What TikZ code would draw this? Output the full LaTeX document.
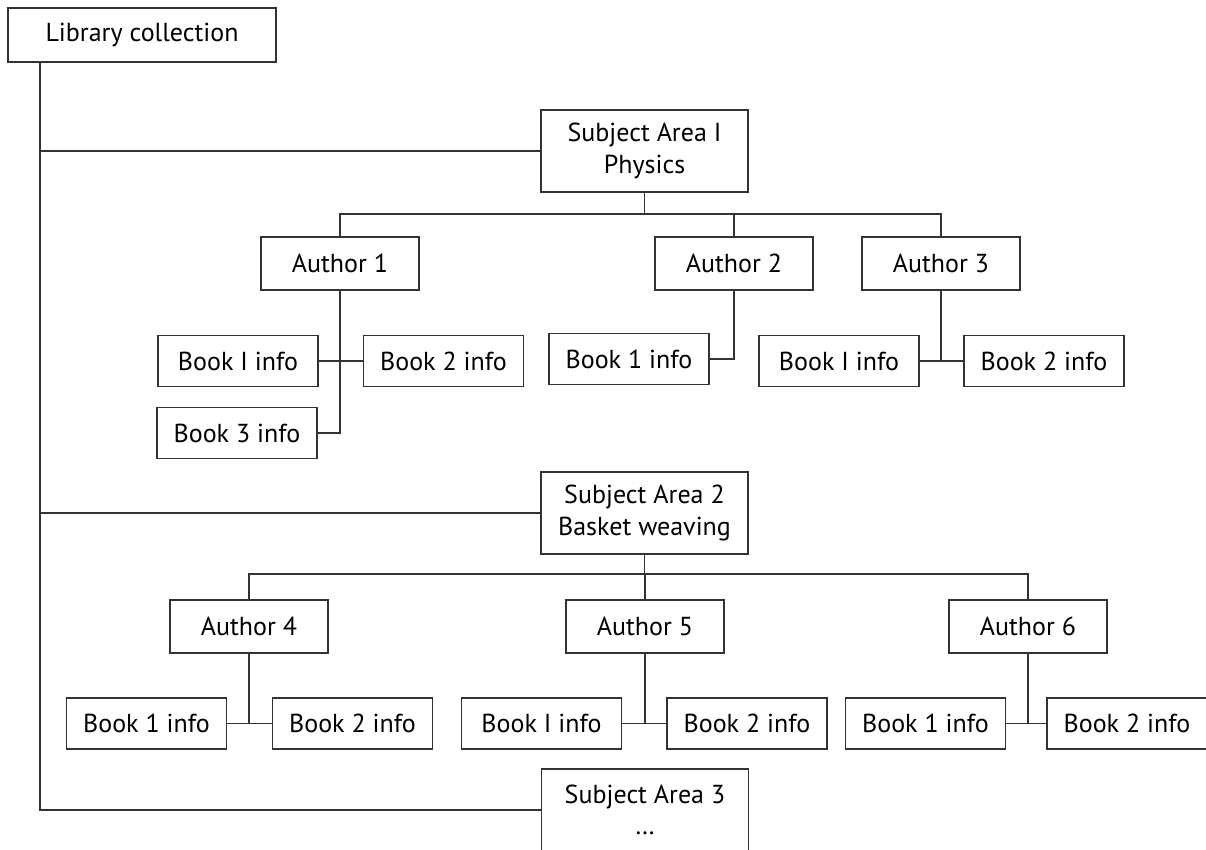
\documentclass[tikz,border=0pt]{standalone}
\usepackage{fontspec}
\setmainfont{PT Sans}
\begin{document}
\begin{tikzpicture}[x=1cm,y=1cm,
  line width=1.1pt, draw=black!80,
  every node/.style={draw=black!80, fill=white, align=center, inner sep=1pt, font=\fontsize{14.8}{18}\selectfont},
  topbox/.style={minimum width=5.36cm, minimum height=1.08cm},
  areabox/.style={minimum width=4.14cm, minimum height=1.64cm},
  authorbox/.style={minimum width=3.16cm, minimum height=1.06cm},
  bookbox/.style={minimum width=3.2cm, minimum height=1.02cm}]
\useasboundingbox (0,0) rectangle (24.12,-17);
\node[topbox] (lib) at (2.84,-0.70) {Library collection};
\node[areabox] (sa1) at (12.89,-3.02) {Subject Area I\\Physics};
\node[areabox] (sa2) at (12.89,-10.26) {Subject Area 2\\Basket weaving};
\node[areabox] (sa3) at (12.90,-16.20) {Subject Area 3\\\dots};
\node[authorbox] (a1) at (6.80,-5.27) {Author 1};
\node[authorbox] (a2) at (14.68,-5.27) {Author 2};
\node[authorbox] (a3) at (18.82,-5.27) {Author 3};
\node[authorbox] (a4) at (4.98,-12.53) {Author 4};
\node[authorbox] (a5) at (12.90,-12.53) {Author 5};
\node[authorbox] (a6) at (20.56,-12.53) {Author 6};
\node[bookbox] (b11) at (4.76,-7.22) {Book I info};
\node[bookbox] (b12) at (8.87,-7.22) {Book 2 info};
\node[bookbox] (b13) at (4.74,-8.66) {Book 3 info};
\node[bookbox] (b21) at (12.58,-7.18) {Book 1 info};
\node[bookbox] (b31) at (16.78,-7.22) {Book I info};
\node[bookbox] (b32) at (20.88,-7.22) {Book 2 info};
\node[bookbox] (b41) at (2.93,-14.47) {Book 1 info};
\node[bookbox] (b42) at (7.05,-14.47) {Book 2 info};
\node[bookbox] (b51) at (10.83,-14.47) {Book I info};
\node[bookbox] (b52) at (14.94,-14.47) {Book 2 info};
\node[bookbox] (b61) at (18.51,-14.47) {Book 1 info};
\node[bookbox] (b62) at (22.54,-14.47) {Book 2 info};
\coordinate (trunk) at (0.80,0);
\coordinate (bus1) at (0,-4.28);
\coordinate (bus2) at (0,-11.48);
% trunk to the subject areas
\draw (lib.south -| trunk) |- (sa3.west);
\draw (trunk |- sa1.west) -- (sa1.west);
\draw (trunk |- sa2.west) -- (sa2.west);
% subject area 1
\draw (sa1.south) -- (sa1.south |- bus1);
\draw (a1.north) |- (a3.north |- bus1) -- (a3.north);
\draw (a2.north) -- (a2.north |- bus1);
\draw (a1.south) |- (b13.east);
\draw (b11.east) -- (b12.west);
\draw (a2.south) |- (b21.east);
\draw (a3.south) -- (a3.south |- b31.east);
\draw (b31.east) -- (b32.west);
% subject area 2
\draw (sa2.south) -- (sa2.south |- bus2);
\draw (a4.north) |- (a6.north |- bus2) -- (a6.north);
\draw (a5.north) -- (a5.north |- bus2);
\draw (a4.south) -- (a4.south |- b41.east);
\draw (b41.east) -- (b42.west);
\draw (a5.south) -- (a5.south |- b51.east);
\draw (b51.east) -- (b52.west);
\draw (a6.south) -- (a6.south |- b61.east);
\draw (b61.east) -- (b62.west);
\end{tikzpicture}
\end{document}
